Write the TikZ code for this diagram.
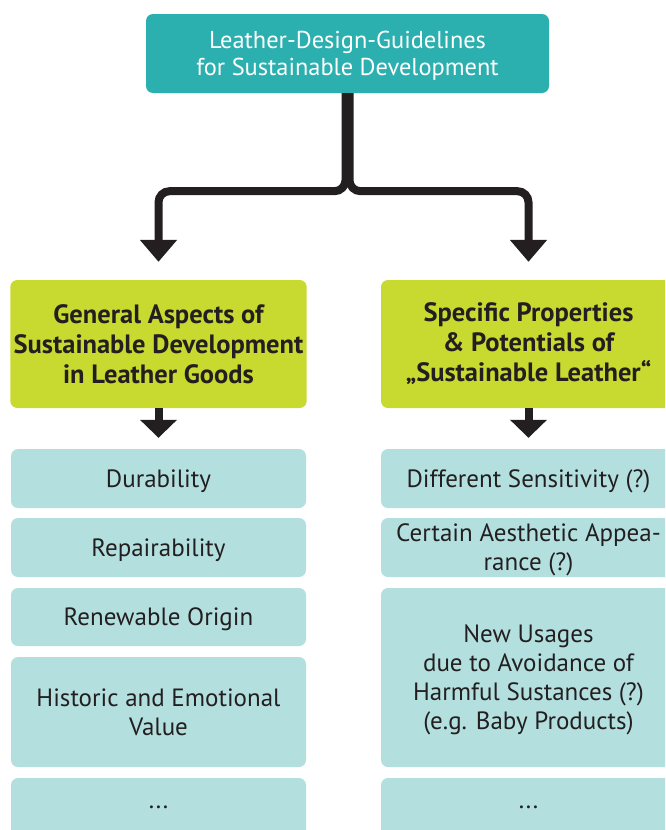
\documentclass[tikz,border=0pt]{standalone}
\usepackage{fontspec}
\setmainfont{PT Sans}
\usetikzlibrary{arrows.meta}

\definecolor{guideteal}{HTML}{2CAFAF}
\definecolor{aspectgreen}{HTML}{C8D92F}
\definecolor{itemblue}{HTML}{B3E0DF}
\definecolor{inkdark}{HTML}{231F20}

\tikzset{
  guidebox/.style={fill=guideteal,text=white,rounded corners=7pt,
    minimum width=403pt,minimum height=79pt,align=center,text depth=0pt,
    font=\fontsize{24.4}{27}\selectfont},
  headbox/.style={fill=aspectgreen,text=inkdark,rounded corners=7pt,
    minimum width=295pt,minimum height=128pt,align=center,
    font=\bfseries\fontsize{26.5}{30}\selectfont},
  itembox/.style={fill=itemblue,text=inkdark,rounded corners=7pt,
    minimum width=295pt,inner sep=0pt,align=center,text depth=0pt,
    font=\fontsize{25}{29}\selectfont},
  conn/.style={line width=8pt,draw=inkdark,rounded corners=11pt,
    -{Triangle[width=36pt,length=22pt]}},
  subconn/.style={line width=8pt,draw=inkdark,
    -{Triangle[width=36pt,length=18pt]},shorten >=11pt},
}

\begin{document}
\begin{tikzpicture}[x=1pt,y=-1pt]
    \useasboundingbox (0,0) rectangle (665,830);
    \clip (0,0) rectangle (665,830);
    %% Title
    \node[guidebox] (guide) at (347.5,53.5) {Leather-Design-Guidelines\\for Sustainable Development};
    %% Two main branches
    \node[headbox] (gen) at (158.5,344) {General Aspects of\\Sustainable Development\\in Leather Goods};
    \node[headbox] (spec) at (528.5,344) {Specific Properties\\\& Potentials of\\„Sustainable Leather“};
    %% Left column
    \node[itembox,minimum height=59pt] (dur) at (158.5,478.5) {Durability};
    \node[itembox,minimum height=59pt] (rep) at (158.5,547.5) {Repairability};
    \node[itembox,minimum height=58pt] (ren) at (158.5,617) {Renewable Origin};
    \node[itembox,minimum height=110pt] (hist) at (158.5,712) {Historic and Emotional\\Value};
    \node[itembox,minimum height=59pt] (moreL) at (158.5,807.5) {...};
    %% Right column
    \node[itembox,minimum height=59pt] (sens) at (528.5,478.5) {Different Sensitivity (?)};
    \node[itembox,minimum height=59pt] (aest) at (528.5,547.5) {Certain Aesthetic Appea-\\rance (?)};
    \node[itembox,minimum height=179pt] (usage) at (528.5,677.5) {New Usages\\due to Avoidance of\\Harmful Sustances (?)\\(e.g. Baby Products)};
    \node[itembox,minimum height=59pt] (moreR) at (528.5,807.5) {...};
    %% Arrows
    \draw[conn,shorten >=18pt] ([xshift=-2pt]guide.south) -- ++(0,98) -| (gen.north);
    \draw[conn,shorten >=18pt] ([xshift=2pt]guide.south) -- ++(0,98) -| (spec.north);
    \draw[subconn] (gen.south) -- (dur.north);
    \draw[subconn] (spec.south) -- (sens.north);
\end{tikzpicture}
\end{document}
